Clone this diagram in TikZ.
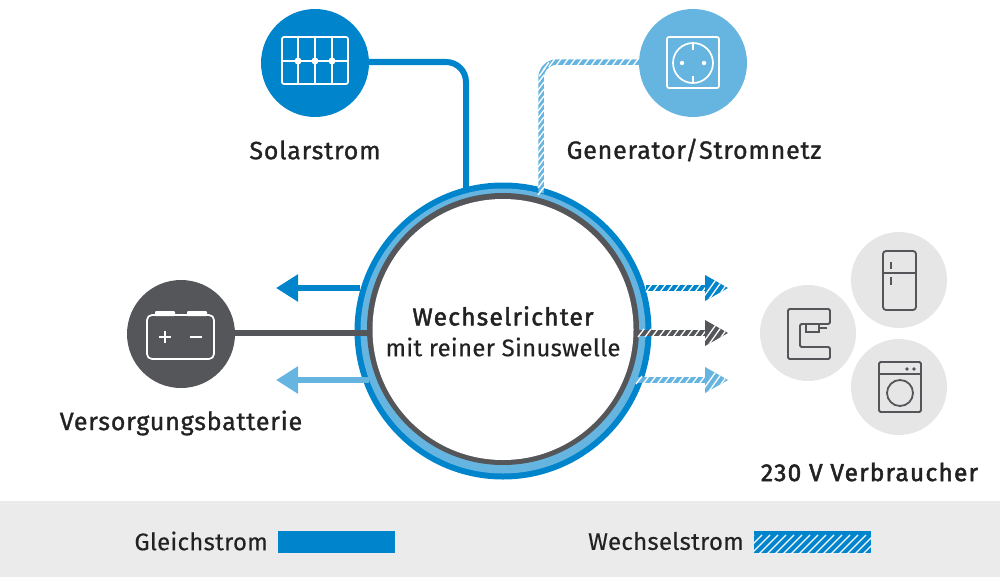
\documentclass[tikz,border=0pt]{standalone}
\usepackage{fontspec}
\setmainfont{Fira Sans}
\newfontfamily\labelfont[LetterSpace=3.2,FakeBold=1.2]{Fira Sans}
\newfontfamily\boldfont[LetterSpace=5,FakeBold=2]{Fira Sans}
\newfontfamily\plainfont[LetterSpace=1.2,FakeBold=0.3]{Fira Sans}
\usetikzlibrary{arrows.meta,decorations.markings}
\definecolor{dcblue}{HTML}{0084CB}
\definecolor{acblue}{HTML}{66B5E0}
\definecolor{batgray}{HTML}{55565A}
\definecolor{pale}{HTML}{E6E6E6}
\definecolor{band}{HTML}{EBEBEB}
\definecolor{inktext}{HTML}{222222}
\tikzset{
  disc/.style={circle, inner sep=0pt, minimum size=108pt},
  usedisc/.style={circle, inner sep=0pt, minimum size=96pt, fill=pale},
  label/.style={text=inktext, font=\fontsize{25}{29}\selectfont\labelfont, inner sep=0pt},
  boldlabel/.style={label, font=\fontsize{24.5}{29}\selectfont\boldfont},
  plainlabel/.style={label, font=\fontsize{24}{28}\selectfont\plainfont},
  icon/.style={draw=white, line width=1.7, rounded corners=2pt},
  useicon/.style={draw=batgray, line width=1.8, rounded corners=1.5pt},
  hatchline/.style={line width=#1, postaction={decorate, decoration={markings,
    mark=between positions 3pt and 1 step 7pt with {\pgftransformresetnontranslations
      \draw[white, line width=1.3] (-3,4) -- (3,-4);}}}},
  flatarrow/.style={line width=5.5, -{Triangle[length=22pt, width=26pt]}},
}
% line with a hatched triangle on its end
\newcommand{\hatcharrow}[3]{
  \draw[#3, hatchline=5.5] (#1) -- ([xshift=-23pt]#2);
  \begin{scope}
   \clip ([shift={(-23,-13)}]#2) -- (#2) -- ([shift={(-23,13)}]#2) -- cycle;
   \fill[#3] ([shift={(-23,-13)}]#2) rectangle ([shift={(0,13)}]#2);
   \foreach \s in {-28,-21,...,7}
     \draw[white, line width=1.3] ([shift={(\s,14)}]#2) -- ([shift={(\s+20,-14)}]#2);
  \end{scope}
}
\begin{document}
\begin{tikzpicture}[x=1pt, y=-1pt]
  \useasboundingbox (0,0) rectangle (1000,578);
  \fill[band] (0,501) rectangle (1000,577);

  % the inverter ring
  \node[circle, fill=dcblue, inner sep=0pt, minimum size=297pt] (ringout) at (503,331) {};
  \node[circle, fill=acblue, inner sep=0pt, minimum size=285pt] (ringmid) at (503,331) {};
  \node[circle, fill=batgray, inner sep=0pt, minimum size=272pt] (ringin) at (503,329) {};
  \node[circle, fill=white, inner sep=0pt, minimum size=261pt] (inverter) at (503,329.5) {};
  \node[boldlabel] (invname) at (503,316) {Wechselrichter};
  \node[plainlabel] (invsub) at (503,347) {mit reiner Sinuswelle};

  % sources
  \node[disc, fill=dcblue] (solar) at (315,63) {};
  \node[disc, fill=acblue] (grid) at (693,63) {};
  \node[disc, fill=batgray] (battery) at (181,334) {};
  \node[label] (solarname) at (315,150) {Solarstrom};
  \node[label] (gridname) at (694,150) {Generator/Stromnetz};
  \node[label] (batname) at (181,423) {Versorgungsbatterie};

  \coordinate (solarin) at (466,190);
  \coordinate (gridin) at (541,193);
  \coordinate (batin) at (369,333);
  \draw[dcblue, line width=6, rounded corners=20pt] (solar.east |- 0,62) -| (solarin);
  \draw[acblue, hatchline=5.5, rounded corners=16pt] (grid.west |- 0,62) -| (gridin);
  \draw[batgray, line width=6] (battery.east |- 0,333) -- (batin);

  % arrows to the left
  \coordinate (chargeout) at (360,288);
  \coordinate (chargetip) at (276,288);
  \coordinate (acout) at (369,380);
  \coordinate (actip) at (276,380);
  \draw[dcblue, flatarrow] (chargeout) -- (chargetip);
  \draw[acblue, flatarrow] (acout) -- (actip);

  % arrows to the right
  \coordinate (outa) at (646,288);
  \coordinate (tipa) at (728,288);
  \coordinate (outb) at (638,333);
  \coordinate (tipb) at (728,333);
  \coordinate (outc) at (636,380);
  \coordinate (tipc) at (728,380);
  \hatcharrow{outa}{tipa}{dcblue}
  \hatcharrow{outb}{tipb}{batgray}
  \hatcharrow{outc}{tipc}{acblue}

  % consumers
  \node[usedisc] (coffee) at (808,333) {};
  \node[usedisc] (fridge) at (899,280) {};
  \node[usedisc] (washer) at (899,387) {};
  \node[boldlabel] (usename) at (869.5,472) {230 V Verbraucher};

  % solar panel
  \draw[icon] (282,37) rectangle (348,84);
  \draw[white, line width=1.7] (298,37) -- (298,84) (315,37) -- (315,84) (332,37) -- (332,84) (282,61) -- (348,61);
  \foreach \x in {298,315,332}
    \fill[white] (\x,61) circle (3.5);

  % socket
  \draw[icon] (667,37) rectangle (719,88);
  \draw[white, line width=1.7] (693,63) circle (20);
  \draw[white, line width=1.7] (693,43) -- (693,50) (693,76) -- (693,83);
  \fill[white] (682,63) circle (2.2) (704,63) circle (2.2);

  % battery
  \draw[icon, rounded corners=5pt] (147,315) rectangle (214,359);
  \fill[white, rounded corners=1pt] (155,316) -- (155,311) -- (175,311) -- (175,316) -- cycle;
  \fill[white, rounded corners=1pt] (187,316) -- (187,311) -- (207,311) -- (207,316) -- cycle;
  \draw[white, line width=1.7] (159,337) -- (171,337) (165,331) -- (165,343) (190,337) -- (202,337);

  % coffee machine
  \draw[useicon] (788,309) -- (830,309) -- (830,324) -- (800,324) -- (800,347) -- (830,347) -- (830,359) -- (788,359) -- cycle;
  \draw[useicon, rounded corners=0pt] (806,324) -- (806,332) -- (819,332) -- (819,324) (819,328) -- (827,328);

  % fridge
  \draw[useicon, rounded corners=3pt] (883,251) rectangle (916,310);
  \draw[useicon] (883,273) -- (916,273) (891,262) -- (891,269) (891,277) -- (891,285);

  % washing machine
  \draw[useicon] (879,362) rectangle (921,412);
  \draw[useicon] (879,374) -- (921,374) (900,393) circle (13);
  \fill[batgray] (907,369) circle (1.8) (914,369) circle (1.8);

  % legend
  \node[plainlabel, anchor=east] (dcname) at (268,541) {Gleichstrom};
  \node[fill=dcblue, inner sep=0pt, minimum width=117pt, minimum height=22pt] (dcbar) at (336.5,542) {};
  \node[plainlabel, anchor=east] (acname) at (744,541) {Wechselstrom};
  \node[fill=dcblue, inner sep=0pt, minimum width=117pt, minimum height=22pt,
    path picture={\foreach \s in {-30,-22,...,120}
      \draw[white, line width=1.2] ([shift={(\s,12)}]path picture bounding box.south west) -- ([shift={(\s+30,-18)}]path picture bounding box.south west);}] (acbar) at (812.5,542) {};
\end{tikzpicture}
\end{document}
